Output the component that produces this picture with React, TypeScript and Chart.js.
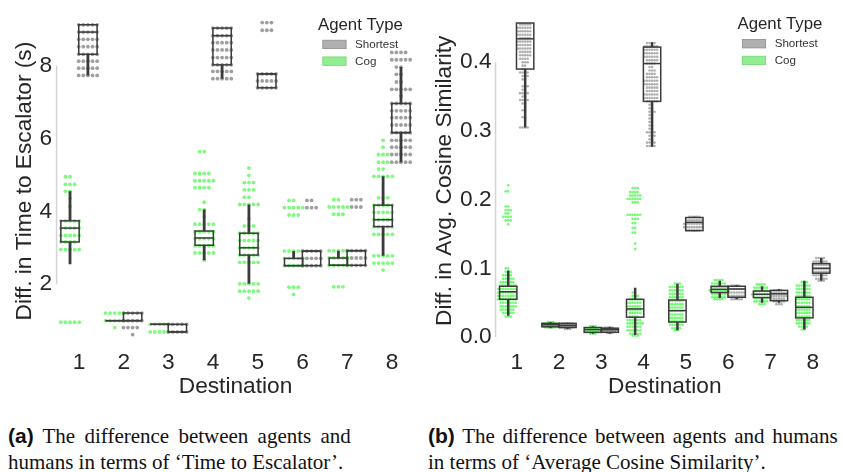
import React, { useEffect, useRef } from 'react';
import { Chart, registerables } from 'chart.js';

Chart.register(...registerables);

type Row = [number, number]; // [value, number of agents at that value]
type Box = [number, number, number, number, number]; // [whisker low, q1, median, q3, whisker high]

const destinations = ['1', '2', '3', '4', '5', '6', '7', '8'];
const agentTypes = ['Shortest', 'Cog'];

// ---------- (a) Difference in Time to Escalator (s) ----------
const timeTicks = [2, 4, 6, 8];

const timeCogRows: Row[][] = [
  [[4.95, 2], [4.74, 3], [4.55, 2], [4.35, 1], [4.14, 1], [3.74, 5], [3.54, 5], [3.34, 5], [3.16, 4], [2.95, 5], [0.96, 5]],
  [[1.21, 5], [1.0, 5], [0.81, 1]],
  [[0.9, 5], [0.69, 5]],
  [[5.64, 2], [5.04, 4], [4.84, 5], [4.65, 4], [4.25, 1], [4.05, 2], [3.86, 1], [3.65, 5], [3.44, 5], [3.25, 5], [3.05, 5], [2.86, 5], [2.66, 1]],
  [[5.19, 1], [4.99, 1], [4.79, 3], [4.59, 3], [4.39, 2], [4.19, 5], [3.8, 1], [3.6, 3], [3.4, 5], [3.2, 5], [3.0, 5], [2.8, 5], [2.6, 5], [2.01, 5], [1.81, 5], [1.62, 1]],
  [[4.3, 2], [4.1, 5], [3.9, 3], [2.91, 5], [2.71, 5], [2.51, 5], [1.92, 3], [1.72, 1]],
  [[4.32, 2], [4.12, 5], [3.92, 3], [2.92, 5], [2.72, 5], [2.52, 5], [1.93, 3]],
  [[5.95, 1], [5.76, 1], [5.56, 3], [5.35, 3], [5.16, 2], [4.96, 5], [4.37, 3], [4.17, 5], [3.97, 5], [3.77, 5], [3.58, 5], [3.37, 5], [2.78, 5], [2.58, 5], [2.39, 1]],
];

const timeShortestRows: Row[][] = [
  [[9.12, 5], [8.92, 5], [8.72, 5], [8.52, 5], [8.31, 5], [8.12, 5], [7.93, 5], [7.73, 5]],
  [[1.21, 5], [1.0, 5], [0.81, 4], [0.62, 1]],
  [[0.9, 5], [0.69, 5]],
  [[9.03, 5], [8.82, 5], [8.63, 5], [8.43, 5], [8.22, 5], [8.02, 5], [7.84, 5], [7.64, 5]],
  [[9.18, 3], [8.97, 3], [7.77, 5], [7.58, 5], [7.39, 5]],
  [[4.3, 2], [4.1, 3], [2.91, 5], [2.71, 5], [2.51, 5]],
  [[4.32, 3], [4.12, 3], [2.92, 5], [2.72, 5], [2.52, 5]],
  [[8.36, 4], [8.16, 5], [7.96, 2], [7.76, 2], [7.55, 2], [7.35, 5], [7.17, 1], [6.96, 5], [6.76, 5], [6.57, 5], [6.37, 5], [6.16, 5], [5.95, 5], [5.76, 5], [5.56, 5], [5.35, 5]],
];

const timeCogBox: Box[] = [
  [2.55, 3.16, 3.54, 3.74, 4.55],
  [1.0, 1.0, 1.0, 1.0, 1.0],
  [0.9, 0.9, 0.9, 0.9, 0.9],
  [2.66, 3.07, 3.27, 3.46, 4.05],
  [2.01, 2.8, 3.0, 3.4, 4.19],
  [2.51, 2.51, 2.51, 2.71, 2.91],
  [2.52, 2.52, 2.52, 2.72, 2.92],
  [2.78, 3.58, 3.77, 4.17, 4.96],
];

const timeShortestBox: Box[] = [
  [7.73, 8.31, 8.92, 9.12, 9.12],
  [1.0, 1.0, 1.0, 1.21, 1.21],
  [0.69, 0.69, 0.69, 0.9, 0.9],
  [7.64, 8.02, 8.82, 9.03, 9.03],
  [7.39, 7.39, 7.77, 7.77, 7.77],
  [2.51, 2.51, 2.91, 2.91, 2.91],
  [2.52, 2.52, 2.92, 2.92, 2.92],
  [5.35, 6.16, 6.16, 6.96, 7.96],
];

// ---------- (b) Difference in Avg. Cosine Similarity ----------
const cosTicks = [0, 0.1, 0.2, 0.3, 0.4];

const cosCogRows: Row[][] = [
  [[0.221, 1], [0.212, 2], [0.19, 2], [0.185, 3], [0.18, 2], [0.175, 4], [0.17, 3], [0.164, 1], [0.1, 2], [0.095, 3], [0.09, 4], [0.085, 5], [0.08, 6], [0.075, 7], [0.07, 8], [0.065, 8], [0.06, 8], [0.055, 8], [0.05, 7], [0.045, 7], [0.04, 6], [0.035, 5], [0.03, 3]],
  [[0.022, 3], [0.02, 6], [0.018, 7], [0.016, 7], [0.014, 5]],
  [[0.016, 3], [0.013, 6], [0.01, 7], [0.007, 6], [0.005, 3]],
  [[0.217, 3], [0.211, 4], [0.206, 5], [0.201, 6], [0.196, 3], [0.178, 6], [0.172, 3], [0.166, 2], [0.159, 2], [0.152, 2], [0.136, 1], [0.128, 1], [0.07, 1], [0.065, 2], [0.06, 3], [0.055, 5], [0.05, 6], [0.045, 6], [0.04, 6], [0.035, 5], [0.03, 4], [0.025, 6], [0.02, 7], [0.015, 6], [0.01, 6], [0.005, 5], [0.002, 3]],
  [[0.078, 3], [0.073, 6], [0.068, 6], [0.063, 6], [0.058, 6], [0.053, 6], [0.048, 6], [0.043, 6], [0.038, 6], [0.033, 6], [0.028, 6], [0.023, 6], [0.018, 6], [0.013, 4], [0.01, 2]],
  [[0.083, 4], [0.078, 6], [0.073, 7], [0.068, 8], [0.063, 7], [0.058, 6], [0.055, 4]],
  [[0.077, 4], [0.072, 6], [0.067, 7], [0.062, 8], [0.057, 7], [0.052, 6], [0.048, 3]],
  [[0.08, 3], [0.075, 6], [0.07, 6], [0.065, 6], [0.06, 6], [0.055, 6], [0.05, 6], [0.045, 6], [0.04, 6], [0.035, 6], [0.03, 6], [0.025, 6], [0.02, 6], [0.015, 4], [0.011, 2]],
];

const cosShortestRows: Row[][] = [
  [[0.455, 5], [0.45, 6], [0.445, 6], [0.44, 6], [0.435, 5], [0.43, 6], [0.425, 6], [0.42, 6], [0.415, 5], [0.41, 5], [0.405, 4], [0.4, 3], [0.395, 2], [0.39, 2], [0.385, 4], [0.38, 3], [0.375, 2], [0.37, 1], [0.365, 3], [0.36, 2], [0.355, 4], [0.35, 2], [0.345, 4], [0.34, 2], [0.335, 1], [0.33, 2], [0.32, 2], [0.315, 1], [0.305, 4]],
  [[0.02, 5], [0.018, 7], [0.016, 7], [0.014, 6], [0.012, 3]],
  [[0.014, 4], [0.012, 6], [0.01, 7], [0.008, 6], [0.006, 3]],
  [[0.428, 4], [0.423, 6], [0.418, 6], [0.413, 6], [0.408, 6], [0.403, 5], [0.398, 4], [0.393, 2], [0.388, 3], [0.383, 4], [0.378, 5], [0.373, 6], [0.368, 6], [0.363, 5], [0.358, 5], [0.353, 6], [0.348, 6], [0.343, 5], [0.338, 2], [0.333, 2], [0.328, 3], [0.323, 2], [0.318, 2], [0.313, 2], [0.308, 2], [0.303, 2], [0.298, 4], [0.293, 3], [0.288, 2], [0.283, 4], [0.278, 4]],
  [[0.175, 5], [0.17, 7], [0.165, 8], [0.16, 8], [0.155, 6]],
  [[0.075, 4], [0.07, 7], [0.065, 7], [0.06, 7], [0.055, 5]],
  [[0.068, 4], [0.064, 7], [0.06, 7], [0.056, 6], [0.052, 5], [0.048, 3]],
  [[0.115, 4], [0.11, 6], [0.105, 7], [0.1, 7], [0.095, 7], [0.09, 6], [0.085, 5], [0.082, 3]],
];

const cosCogBox: Box[] = [
  [0.031, 0.055, 0.066, 0.074, 0.097],
  [0.013, 0.015, 0.018, 0.02, 0.022],
  [0.005, 0.007, 0.011, 0.014, 0.016],
  [0.003, 0.029, 0.041, 0.055, 0.072],
  [0.01, 0.022, 0.0386, 0.054, 0.0776],
  [0.057, 0.065, 0.0696, 0.074, 0.082],
  [0.05, 0.0576, 0.0624, 0.067, 0.074],
  [0.011, 0.028, 0.0433, 0.058, 0.082],
];

const cosShortestBox: Box[] = [
  [0.305, 0.39, 0.434, 0.457, 0.457],
  [0.012, 0.014, 0.017, 0.02, 0.021],
  [0.005, 0.007, 0.011, 0.013, 0.015],
  [0.277, 0.343, 0.398, 0.422, 0.429],
  [0.154, 0.155, 0.167, 0.174, 0.175],
  [0.055, 0.058, 0.07, 0.074, 0.076],
  [0.05, 0.053, 0.063, 0.068, 0.07],
  [0.082, 0.093, 0.1, 0.107, 0.115],
];

// ---------- styling ----------
const FONT = "'Liberation Sans', Arial, Helvetica, sans-serif";
const INK = '#262626';
const BOX_LINE = '#3b3b3b';
const AXIS_SIZE = 22.7;

interface Panel {
  cogRows: Row[][];
  shortRows: Row[][];
  cogBox: Box[];
  shortBox: Box[];
  yMin: number;
  yMax: number;
  yTicks: number[];
  yDigits: number;
  yTitle: string;
  spine: [number, number];
  yWidth: number;
  yTickPad: number;
  yTitlePad: number;
  rightPad: number;
  step: number;
  radius: number;
  whisker: number;
  cogColor: string;
  shortColor: string;
}

const panelA: Panel = {
  cogRows: timeCogRows,
  shortRows: timeShortestRows,
  cogBox: timeCogBox,
  shortBox: timeShortestBox,
  yMin: 0.36,
  yMax: 9.3,
  yTicks: timeTicks,
  yDigits: 0,
  yTitle: 'Diff. in Time to Escalator (s)',
  spine: [2, 8],
  yWidth: 56.6,
  yTickPad: 4.6,
  yTitlePad: 11.4,
  rightPad: 6.6,
  step: 0.103,
  radius: 1.9,
  whisker: 2.8,
  cogColor: 'rgba(0,245,0,0.5)',
  shortColor: 'rgba(80,80,80,0.55)',
};

const panelB: Panel = {
  cogRows: cosCogRows,
  shortRows: cosShortestRows,
  cogBox: cosCogBox,
  shortBox: cosShortestBox,
  yMin: -0.01,
  yMax: 0.465,
  yTicks: cosTicks,
  yDigits: 1,
  yTitle: 'Diff. in Avg. Cosine Similarity',
  spine: [0, 0.4],
  yWidth: 74.55,
  yTickPad: 3.9,
  yTitlePad: 10.4,
  rightPad: 9.05,
  step: 0.06,
  radius: 1.3,
  whisker: 2.5,
  cogColor: 'rgba(0,245,0,0.55)',
  shortColor: 'rgba(100,100,100,0.5)',
};

const DODGE = 0.2;
const HALF_BOX = 0.205;

function swarmPoints(rows: Row[][], dodge: number, step: number) {
  const pts: { x: number; y: number }[] = [];
  const slot = (i: number) => (i === 0 ? 0 : i % 2 === 1 ? -(i + 1) / 2 : i / 2);
  rows.forEach((group, d) => {
    group.forEach(([v, n]) => {
      for (let i = 0; i < n; i++) pts.push({ x: d + 1 + dodge + slot(i) * step, y: v });
    });
  });
  return pts;
}

function buildChart(canvas: HTMLCanvasElement, p: Panel) {
  const decorations = {
    id: 'decorations',
    beforeDatasetsDraw(chart: any) {
      const { ctx, scales } = chart;
      const x = scales.x;
      const y = scales.y;
      const sx = x.getPixelForValue(x.min);
      ctx.save();
      ctx.strokeStyle = '#d4d4d4';
      ctx.lineWidth = 1.5;
      ctx.beginPath();
      ctx.moveTo(sx, y.getPixelForValue(p.spine[0]));
      ctx.lineTo(sx, y.getPixelForValue(p.spine[1]));
      ctx.stroke();
      ctx.restore();
    },
    afterDatasetsDraw(chart: any) {
      const { ctx, scales } = chart;
      const x = scales.x;
      const y = scales.y;
      const groups: [Box[], number][] = [
        [p.cogBox, -DODGE],
        [p.shortBox, DODGE],
      ];
      ctx.save();
      ctx.strokeStyle = BOX_LINE;
      groups.forEach(([stats, dodge]) => {
        stats.forEach((s, i) => {
          const c = i + 1 + dodge;
          const cx = x.getPixelForValue(c);
          const l = x.getPixelForValue(c - HALF_BOX);
          const r = x.getPixelForValue(c + HALF_BOX);
          const [lo, q1, med, q3, hi] = s.map((v) => y.getPixelForValue(v));
          ctx.lineWidth = p.whisker;
          ctx.beginPath();
          ctx.moveTo(cx, q3);
          ctx.lineTo(cx, hi);
          ctx.moveTo(cx, q1);
          ctx.lineTo(cx, lo);
          ctx.stroke();
          ctx.lineWidth = 1.5;
          ctx.strokeRect(l, q3, r - l, q1 - q3);
          ctx.beginPath();
          ctx.moveTo(l, med);
          ctx.lineTo(r, med);
          ctx.stroke();
        });
      });
      ctx.restore();
    },
    afterDraw(chart: any) {
      const { ctx, chartArea } = chart;
      const cx = chartArea.right - 54;
      const top = chartArea.top;
      ctx.save();
      ctx.fillStyle = INK;
      ctx.font = `16.8px ${FONT}`;
      ctx.textAlign = 'center';
      ctx.textBaseline = 'middle';
      ctx.fillText('Agent Type', cx, top + 7);
      const items: [string, string, string][] = [
        [agentTypes[0], '#b0b0b0', '#8e8e8e'],
        [agentTypes[1], '#90ee90', '#74d474'],
      ];
      items.forEach(([label, fill, stroke], i) => {
        const by = top + 22 + i * 16.7;
        ctx.fillStyle = fill;
        ctx.fillRect(cx - 37.6, by, 23.3, 8.4);
        ctx.strokeStyle = stroke;
        ctx.lineWidth = 0.8;
        ctx.strokeRect(cx - 37.6, by, 23.3, 8.4);
        ctx.fillStyle = '#333';
        ctx.font = `11.6px ${FONT}`;
        ctx.textAlign = 'left';
        ctx.fillText(label, cx - 5.3, by + 4.4);
      });
      ctx.restore();
    },
  };

  return new Chart(canvas, {
    type: 'scatter',
    data: {
      datasets: [
        {
          label: agentTypes[1],
          data: swarmPoints(p.cogRows, -DODGE, p.step),
          pointRadius: p.radius,
          pointHoverRadius: p.radius,
          pointBackgroundColor: p.cogColor,
          pointBorderWidth: 0,
        },
        {
          label: agentTypes[0],
          data: swarmPoints(p.shortRows, DODGE, p.step),
          pointRadius: p.radius,
          pointHoverRadius: p.radius,
          pointBackgroundColor: p.shortColor,
          pointBorderWidth: 0,
        },
      ],
    },
    options: {
      animation: false,
      responsive: false,
      devicePixelRatio: 1,
      events: [],
      layout: { padding: { left: 0, top: 11.5, right: p.rightPad, bottom: 0 } },
      plugins: { legend: { display: false }, tooltip: { enabled: false } },
      scales: {
        x: {
          type: 'linear',
          min: 0.5,
          max: 8.5,
          afterBuildTicks: (s: any) => {
            s.ticks = destinations.map((_, i) => ({ value: i + 1 }));
          },
          afterFit: (s: any) => {
            s.height = 56;
          },
          ticks: {
            callback: (_v: any, i: number) => destinations[i],
            font: { family: FONT, size: AXIS_SIZE },
            color: INK,
            padding: 5.4,
            maxRotation: 0,
            autoSkip: false,
          },
          grid: { display: false, drawTicks: false },
          border: { display: false },
          title: {
            display: true,
            text: 'Destination',
            font: { family: FONT, size: AXIS_SIZE },
            color: INK,
            padding: { top: 0, bottom: 0 },
          },
        },
        y: {
          type: 'linear',
          min: p.yMin,
          max: p.yMax,
          afterBuildTicks: (s: any) => {
            s.ticks = p.yTicks.map((v) => ({ value: v }));
          },
          afterFit: (s: any) => {
            s.width = p.yWidth;
          },
          ticks: {
            callback: (v: any) => Number(v).toFixed(p.yDigits),
            font: { family: FONT, size: AXIS_SIZE },
            color: INK,
            padding: p.yTickPad,
          },
          grid: { display: false, drawTicks: false },
          border: { display: false },
          title: {
            display: true,
            text: p.yTitle,
            font: { family: FONT, size: AXIS_SIZE },
            color: INK,
            padding: { top: p.yTitlePad, bottom: 0 },
          },
        },
      },
    },
    plugins: [decorations],
  } as any);
}

const captionStyle: React.CSSProperties = {
  position: 'absolute',
  top: 423,
  whiteSpace: 'nowrap',
  fontFamily: "'Liberation Serif', 'Times New Roman', serif",
  fontSize: 21,
  lineHeight: '26px',
  color: '#111',
};

const labelStyle: React.CSSProperties = {
  fontFamily: FONT,
  fontWeight: 700,
};

export default function App() {
  const refA = useRef<HTMLCanvasElement>(null);
  const refB = useRef<HTMLCanvasElement>(null);

  useEffect(() => {
    const a = buildChart(refA.current as HTMLCanvasElement, panelA);
    const b = buildChart(refB.current as HTMLCanvasElement, panelB);
    return () => {
      a.destroy();
      b.destroy();
    };
  }, []);

  return (
    <div style={{ position: 'absolute', left: 0, top: 0, width: 843, height: 472, background: '#fff', overflow: 'hidden' }}>
      <canvas ref={refA} width={421} height={400} style={{ position: 'absolute', left: 0, top: 0 }} />
      <canvas ref={refB} width={422} height={400} style={{ position: 'absolute', left: 421, top: 0 }} />
      <div style={{ ...captionStyle, left: 8 }}>
        <span style={{ wordSpacing: 4 }}>
          <span style={labelStyle}>(a)</span> The difference between agents and
        </span>
        <br />
        humans in terms of ‘Time to Escalator’.
      </div>
      <div style={{ ...captionStyle, left: 428 }}>
        <span style={{ wordSpacing: 2.5 }}>
          <span style={labelStyle}>(b)</span> The difference between agents and humans
        </span>
        <br />
        in terms of ‘Average Cosine Similarity’.
      </div>
    </div>
  );
}
